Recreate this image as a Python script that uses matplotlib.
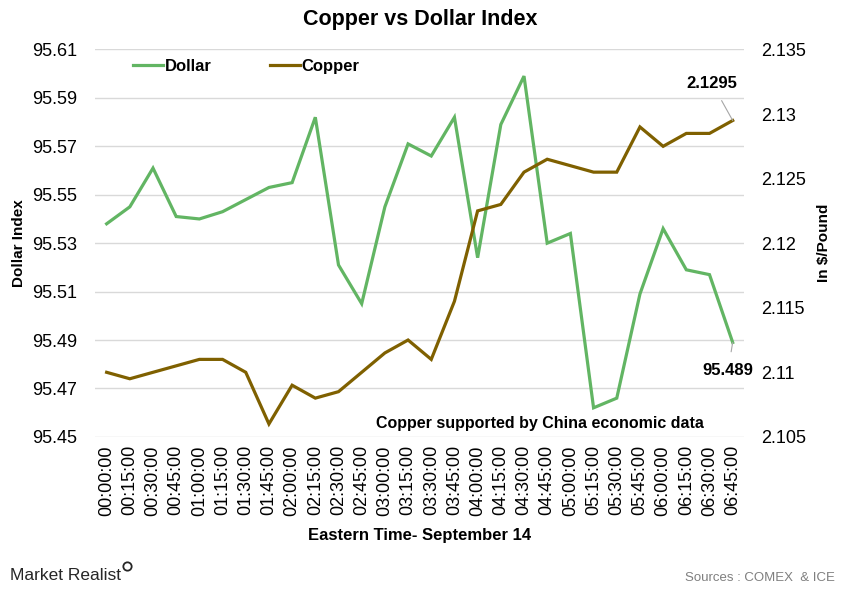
import matplotlib
matplotlib.use('Agg')
import matplotlib.pyplot as plt
from matplotlib.lines import Line2D

plt.rcParams['font.family'] = ['Liberation Sans', 'DejaVu Sans']

times = ['00:00:00', '00:15:00', '00:30:00', '00:45:00', '01:00:00', '01:15:00', '01:30:00',
         '01:45:00', '02:00:00', '02:15:00', '02:30:00', '02:45:00', '03:00:00', '03:15:00',
         '03:30:00', '03:45:00', '04:00:00', '04:15:00', '04:30:00', '04:45:00', '05:00:00',
         '05:15:00', '05:30:00', '05:45:00', '06:00:00', '06:15:00', '06:30:00', '06:45:00']
dollar = [95.538, 95.545, 95.561, 95.541, 95.540, 95.543, 95.548, 95.553, 95.555, 95.582,
          95.521, 95.505, 95.545, 95.571, 95.566, 95.582, 95.524, 95.579, 95.599, 95.530,
          95.534, 95.462, 95.466, 95.509, 95.536, 95.519, 95.517, 95.489]
copper = [2.1100, 2.1095, 2.1100, 2.1105, 2.1110, 2.1110, 2.1100, 2.1060, 2.1090, 2.1080,
          2.1085, 2.1100, 2.1115, 2.1125, 2.1110, 2.1155, 2.1225, 2.1230, 2.1255, 2.1265,
          2.1260, 2.1255, 2.1255, 2.1290, 2.1275, 2.1285, 2.1285, 2.1295]
left_ticks = [95.45, 95.47, 95.49, 95.51, 95.53, 95.55, 95.57, 95.59, 95.61]
right_ticks = [2.105, 2.11, 2.115, 2.12, 2.125, 2.13, 2.135]

green = '#62B563'
brown = '#7F6000'

fig = plt.figure(figsize=(8.41, 5.96), dpi=100)
ax = fig.add_axes([0.113, 0.267, 0.772, 0.650])
ax2 = ax.twinx()

x = list(range(len(times)))
ax.plot(x, dollar, color=green, lw=2.3, label='Dollar', solid_joinstyle='miter', zorder=3)
ax2.plot(x, copper, color=brown, lw=2.3, label='Copper', solid_joinstyle='miter', zorder=3)

ax.set_xlim(-0.5, len(times) - 0.5)
ax.set_ylim(95.45, 95.61)
ax.set_yticks(left_ticks)
ax.set_yticklabels(['%.2f' % v for v in left_ticks], fontsize=13)
ax2.set_ylim(2.105, 2.135)
ax2.set_yticks(right_ticks)
ax2.set_yticklabels([('%.3f' % v).rstrip('0') for v in right_ticks], fontsize=13)
ax.set_xticks(x)
ax.set_xticklabels(times, rotation=90, fontsize=13)

ax.grid(axis='y', color='#D9D9D9', lw=1)
ax.set_axisbelow(True)
for a in (ax, ax2):
    for s in a.spines.values():
        s.set_visible(False)
    a.tick_params(length=0)
ax.tick_params(axis='y', pad=13)
ax2.tick_params(axis='y', pad=12)
ax.tick_params(axis='x', pad=6)

ax.set_ylabel('Dollar Index', fontsize=11, fontweight='bold', labelpad=4)
ax2.set_ylabel('In $/Pound', fontsize=11, fontweight='bold', labelpad=8)
ax.set_xlabel('Eastern Time- September 14', fontsize=12, fontweight='bold', labelpad=9)
fig.suptitle('Copper vs Dollar Index', fontsize=15.5, fontweight='bold', y=0.985)

h1, l1 = ax.get_legend_handles_labels()
h2, l2 = ax2.get_legend_handles_labels()
leg = ax2.legend(h1 + h2, l1 + l2, ncol=2, loc='upper left', bbox_to_anchor=(0.035, 1.015),
                 frameon=False, handlelength=1.8, handletextpad=0.1, columnspacing=3.5,
                 prop={'weight': 'bold', 'size': 12})

ax2.annotate('2.1295', xy=(x[-1], copper[-1]), xytext=(x[-1] - 0.9, 2.1324),
             fontsize=12, fontweight='bold', ha='center', va='center',
             arrowprops=dict(arrowstyle='-', color='#A6A6A6', lw=0.8, shrinkA=6, shrinkB=0))
ax.annotate('95.489', xy=(x[-1], dollar[-1]), xytext=(x[-1] - 0.2, 95.4775),
            fontsize=12, fontweight='bold', ha='center', va='center',
            arrowprops=dict(arrowstyle='-', color='#A6A6A6', lw=0.8, shrinkA=6, shrinkB=0))
ax.text(0.686, 0.035, 'Copper supported by China economic data', transform=ax.transAxes,
        fontsize=11.5, fontweight='bold', ha='center', va='center')

fig.text(0.012, 0.035, 'Market Realist', fontsize=12.5, color='#262626', ha='left', va='center')
fig.add_artist(Line2D([0.151], [0.050], marker='o', ms=6, mfc='none', mec='#262626', mew=1.3,
                      transform=fig.transFigure))
fig.text(0.993, 0.030, 'Sources : COMEX  & ICE', fontsize=9.5, color='#7F7F7F',
         ha='right', va='center')

fig.savefig('out.png', dpi=100)
